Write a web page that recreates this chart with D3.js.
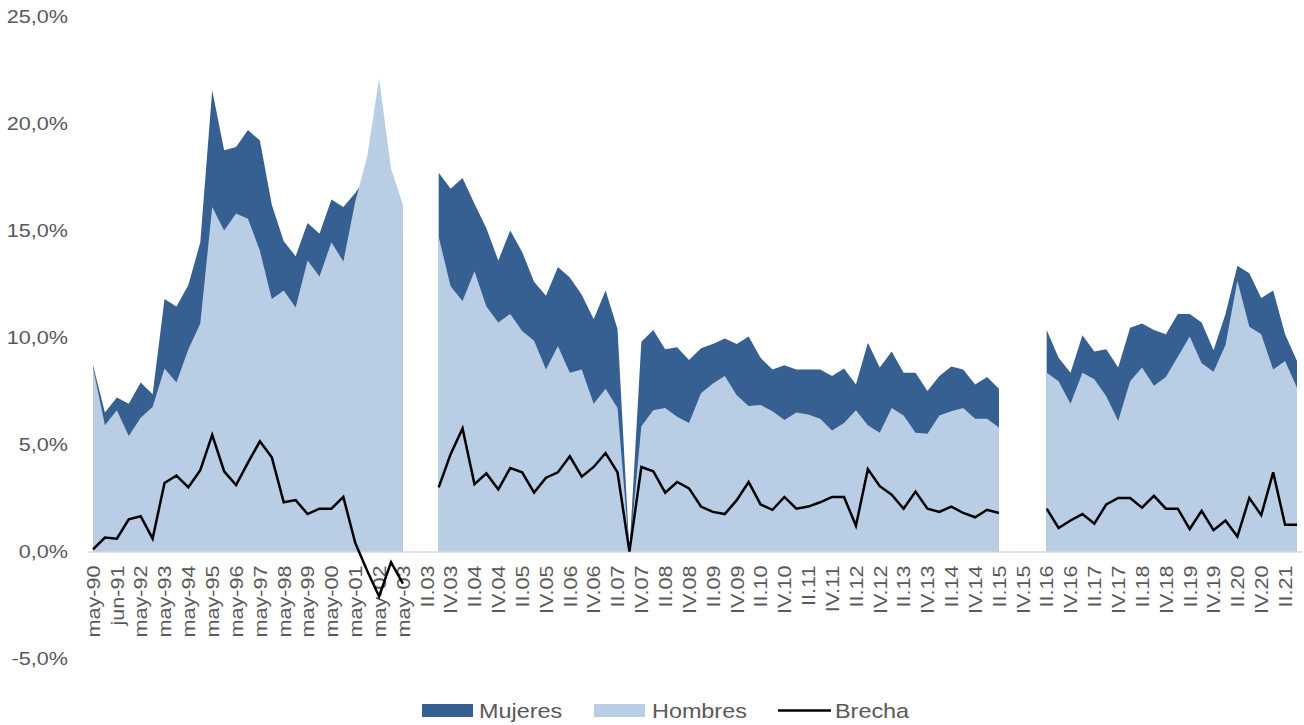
<!DOCTYPE html>
<html>
<head>
<meta charset="utf-8">
<script src="https://cdn.jsdelivr.net/npm/d3@7"></script>
<style>
  html, body { margin: 0; padding: 0; background: #ffffff; }
  svg { display: block; }
  text { font-family: "Liberation Sans", Arial, sans-serif; fill: #595959; }
</style>
</head>
<body>
<svg id="chart" width="1304" height="725"></svg>
<script>
// Survey periods: semiannual waves 1990-2003, then quarters from 2003 on
const periods = [
  "may-90","oct-90","jun-91","oct-91","may-92","oct-92","may-93","oct-93","may-94","oct-94",
  "may-95","oct-95","may-96","oct-96","may-97","oct-97","may-98","oct-98","may-99","oct-99",
  "may-00","oct-00","may-01","oct-01","may-02","oct-02","may-03","I.03",
  "II.03","III.03","IV.03",
  "I.04","II.04","III.04","IV.04",
  "I.05","II.05","III.05","IV.05",
  "I.06","II.06","III.06","IV.06",
  "I.07","II.07","III.07","IV.07",
  "I.08","II.08","III.08","IV.08",
  "I.09","II.09","III.09","IV.09",
  "I.10","II.10","III.10","IV.10",
  "I.11","II.11","III.11","IV.11",
  "I.12","II.12","III.12","IV.12",
  "I.13","II.13","III.13","IV.13",
  "I.14","II.14","III.14","IV.14",
  "I.15","II.15","III.15","IV.15",
  "I.16","II.16","III.16","IV.16",
  "I.17","II.17","III.17","IV.17",
  "I.18","II.18","III.18","IV.18",
  "I.19","II.19","III.19","IV.19",
  "I.20","II.20","III.20","IV.20",
  "I.21","II.21","III.21"
];

// Unemployment rate, women (%); null = no survey published
const mujeres = [
  8.7, 6.5, 7.2, 6.9, 7.9, 7.35, 11.8, 11.45, 12.45, 14.45,
  21.55, 18.75, 18.9, 19.7, 19.2, 16.2, 14.5, 13.8, 15.35, 14.85,
  16.45, 16.1, 16.75, 17.55, 20.0, 17.4, 14.7, null,
  null, 17.7, 16.95,
  17.45, 16.25, 15.1, 13.6,
  15.0, 14.0, 12.6, 11.95,
  13.3, 12.8, 12.0, 10.85,
  12.2, 10.4, 0, 9.8,
  10.35, 9.45, 9.55, 8.95,
  9.5, 9.7, 9.95, 9.7,
  10.05, 9.05, 8.5, 8.7,
  8.5, 8.5, 8.5, 8.2,
  8.55, 7.8, 9.75, 8.6,
  9.35, 8.35, 8.35, 7.5,
  8.2, 8.65, 8.5, 7.8,
  8.15, 7.6, null, null,
  null, 10.35, 9.05, 8.35,
  10.1, 9.35, 9.45, 8.6,
  10.45, 10.65, 10.35, 10.15,
  11.1, 11.1, 10.7, 9.4,
  11.1, 13.35, 13.0, 11.85,
  12.2, 10.15, 8.9
];

// Unemployment rate, men (%)
const hombres = [
  8.6, 5.9, 6.6, 5.4, 6.25, 6.75, 8.55, 7.9, 9.45, 10.65,
  16.1, 15.0, 15.8, 15.55, 14.05, 11.8, 12.2, 11.4, 13.6, 12.85,
  14.45, 13.55, 16.35, 18.45, 22.1, 17.9, 16.2, null,
  null, 14.7, 12.4,
  11.7, 13.1, 11.45, 10.7,
  11.1, 10.3, 9.85, 8.5,
  9.6, 8.35, 8.5, 6.9,
  7.6, 6.7, 0, 5.85,
  6.6, 6.7, 6.3, 6.0,
  7.4, 7.85, 8.2, 7.3,
  6.8, 6.85, 6.55, 6.15,
  6.5, 6.4, 6.2, 5.65,
  6.0, 6.6, 5.9, 5.55,
  6.7, 6.35, 5.55, 5.5,
  6.35, 6.55, 6.7, 6.2,
  6.2, 5.8, null, null,
  null, 8.35, 7.95, 6.9,
  8.35, 8.05, 7.25, 6.1,
  7.95, 8.6, 7.75, 8.15,
  9.1, 10.05, 8.8, 8.4,
  9.65, 12.65, 10.5, 10.15,
  8.5, 8.9, 7.65
];

// Gap between women and men (percentage points)
const brecha = [
  0.1, 0.65, 0.6, 1.5, 1.65, 0.6, 3.2, 3.55, 3.0, 3.8,
  5.45, 3.75, 3.1, 4.15, 5.15, 4.4, 2.3, 2.4, 1.75, 2.0,
  2.0, 2.55, 0.4, -0.9, -2.1, -0.5, -1.5, null,
  null, 3.0, 4.55,
  5.75, 3.15, 3.65, 2.9,
  3.9, 3.7, 2.75, 3.45,
  3.7, 4.45, 3.5, 3.95,
  4.6, 3.7, 0, 3.95,
  3.75, 2.75, 3.25, 2.95,
  2.1, 1.85, 1.75, 2.4,
  3.25, 2.2, 1.95, 2.55,
  2.0, 2.1, 2.3, 2.55,
  2.55, 1.2, 3.85, 3.05,
  2.65, 2.0, 2.8, 2.0,
  1.85, 2.1, 1.8, 1.6,
  1.95, 1.8, null, null,
  null, 2.0, 1.1, 1.45,
  1.75, 1.3, 2.2, 2.5,
  2.5, 2.05, 2.6, 2.0,
  2.0, 1.05, 1.9, 1.0,
  1.45, 0.7, 2.5, 1.7,
  3.7, 1.25, 1.25
];

const yTicks = [-5, 0, 5, 10, 15, 20, 25];

const seriesNames = ["Mujeres", "Hombres", "Brecha"];
const colorMujeres = "#366092";
const colorHombres = "#b9cde5";
const colorBrecha = "#000000";

// Glyphs are drawn a little wider than the stock face
const widen = 1.2;

const svg = d3.select("#chart");

const x = d3.scalePoint()
  .domain(periods)
  .range([93, 1297])
  .padding(0);

const y = d3.scaleLinear()
  .domain([-5, 25])
  .range([658.5, 16.5]);

const rows = periods.map((p, i) => ({
  p, m: mujeres[i], h: hombres[i], b: brecha[i]
}));

function areaFor(key) {
  return d3.area()
    .defined(d => d[key] != null)
    .x(d => x(d.p))
    .y0(y(0))
    .y1(d => y(d[key]));
}

// Women behind, men in front: the dark band shows where women's rate is higher
svg.append("path")
  .datum(rows)
  .attr("fill", colorMujeres)
  .attr("d", areaFor("m"));

svg.append("path")
  .datum(rows)
  .attr("fill", colorHombres)
  .attr("d", areaFor("h"));

// Category axis along zero
svg.append("line")
  .attr("x1", 88).attr("x2", 1302)
  .attr("y1", y(0) + 0.5).attr("y2", y(0) + 0.5)
  .attr("stroke", "#d9d9d9")
  .attr("stroke-width", 1.5);

// Value axis labels
const yAxis = d3.axisLeft(y)
  .tickValues(yTicks)
  .tickSize(0)
  .tickPadding(0)
  .tickFormat(d => d3.format(".1f")(d).replace("\u2212", "-").replace(".", ",") + "%");

const yg = svg.append("g")
  .attr("transform", "translate(68,0)")
  .call(yAxis);
yg.select(".domain").remove();
yg.selectAll("text")
  .attr("font-size", 18)
  .attr("font-family", "Liberation Sans, Arial, sans-serif")
  .attr("fill", "#595959")
  .attr("x", 0)
  .attr("transform", `scale(${widen},1)`);

// Category labels, every second period, rotated
const xLabels = periods.filter((p, i) => i % 2 === 0);
const xAxis = d3.axisBottom(x)
  .tickValues(xLabels)
  .tickSize(0)
  .tickPadding(0);

const xg = svg.append("g")
  .attr("transform", `translate(0,${y(0)})`)
  .call(xAxis);
xg.select(".domain").remove();
xg.selectAll("text")
  .attr("font-size", 18)
  .attr("font-family", "Liberation Sans, Arial, sans-serif")
  .attr("fill", "#595959")
  .attr("text-anchor", "end")
  .attr("transform", `rotate(-90) scale(${widen},1)`)
  .attr("x", -14 / widen)
  .attr("y", 0)
  .attr("dy", "0.35em");

// Gap line
svg.append("path")
  .datum(rows)
  .attr("fill", "none")
  .attr("stroke", colorBrecha)
  .attr("stroke-width", 2.5)
  .attr("stroke-linejoin", "miter")
  .attr("d", d3.line()
    .defined(d => d.b != null)
    .x(d => x(d.p))
    .y(d => y(d.b)));

// Legend
const legend = svg.append("g");
const lg = [
  { name: seriesNames[0], kind: "box", color: colorMujeres, x: 422, tx: 479 },
  { name: seriesNames[1], kind: "box", color: colorHombres, x: 594, tx: 652 },
  { name: seriesNames[2], kind: "line", color: colorBrecha, x: 778, tx: 835 }
];
lg.forEach(item => {
  if (item.kind === "box") {
    legend.append("rect")
      .attr("x", item.x).attr("y", 704)
      .attr("width", 51).attr("height", 13)
      .attr("fill", item.color);
  } else {
    legend.append("line")
      .attr("x1", item.x).attr("x2", item.x + 53)
      .attr("y1", 710.5).attr("y2", 710.5)
      .attr("stroke", item.color)
      .attr("stroke-width", 2.5);
  }
  legend.append("text")
    .attr("transform", `translate(${item.tx},718) scale(${widen},1)`)
    .attr("font-size", 19.5)
    .text(item.name);
});
</script>
</body>
</html>
